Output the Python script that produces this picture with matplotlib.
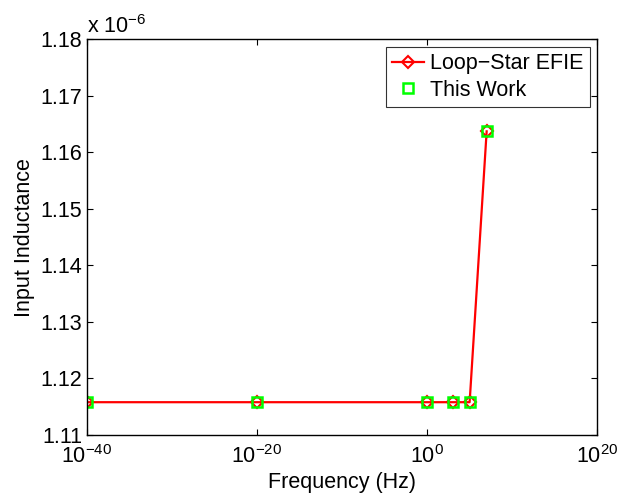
import matplotlib
matplotlib.use("Agg")
import matplotlib.pyplot as plt
from matplotlib.ticker import FuncFormatter, FixedLocator, NullLocator

plt.rcParams['font.family'] = ['Liberation Sans', 'DejaVu Sans']
plt.rcParams['mathtext.fontset'] = 'custom'
plt.rcParams['mathtext.rm'] = 'Liberation Sans'
plt.rcParams['mathtext.it'] = 'Liberation Sans:italic'
plt.rcParams['mathtext.bf'] = 'Liberation Sans:bold'

freq = [1e-40, 1e-20, 1e0, 1e3, 1e5, 1e7]
loop_star = [1.1158e-6, 1.1158e-6, 1.1158e-6, 1.1158e-6, 1.1158e-6, 1.1637e-6]
this_work = [1.1158e-6, 1.1158e-6, 1.1158e-6, 1.1158e-6, 1.1158e-6, 1.1637e-6]
yticks = [1.11e-6, 1.12e-6, 1.13e-6, 1.14e-6, 1.15e-6, 1.16e-6, 1.17e-6, 1.18e-6]
xticks = [1e-40, 1e-20, 1e0, 1e20]
xticklabels = [r'$10^{-40}$', r'$10^{-20}$', r'$10^{0}$', r'$10^{20}$']

FS = 15.5

fig = plt.figure(figsize=(6.34, 4.96), dpi=100)
ax = fig.add_axes([0.137, 0.123, 0.805, 0.798])

ax.plot(freq, loop_star, color='red', lw=1.6, marker='D', markersize=6.5,
        markerfacecolor='none', markeredgecolor='red', markeredgewidth=1.5,
        label='Loop\u2212Star EFIE')
ax.plot(freq, this_work, linestyle='none', marker='s', markersize=6.5,
        markerfacecolor='none', markeredgecolor='#00ff00', markeredgewidth=1.8,
        label='This Work')

ax.set_xscale('log')
ax.set_xlim(1e-40, 1e20)
ax.set_ylim(1.11e-6, 1.18e-6)
ax.xaxis.set_major_locator(FixedLocator(xticks))
ax.xaxis.set_minor_locator(NullLocator())
ax.set_xticklabels(xticklabels)
ax.yaxis.set_major_locator(FixedLocator(yticks))
ax.yaxis.set_major_formatter(FuncFormatter(lambda v, p: f"{v*1e6:.2f}"))

ax.tick_params(direction='in', which='both', top=True, right=True,
               labelsize=FS, length=4, width=0.8)
ax.tick_params(axis='y', pad=3.5)
ax.tick_params(axis='x', pad=7)
for s in ax.spines.values():
    s.set_linewidth(1.0)

ax.set_xlabel('Frequency (Hz)', fontsize=FS, labelpad=3)
ax.set_ylabel('Input Inductance', fontsize=FS, labelpad=4)
ax.text(0.0, 1.003, r'x $10^{-6}$', transform=ax.transAxes, fontsize=FS,
        ha='left', va='bottom')

leg = ax.legend(loc='upper right', fontsize=FS, frameon=True, fancybox=False,
                edgecolor='black', borderaxespad=0.35, handlelength=1.5,
                borderpad=0.3, labelspacing=0.25, handletextpad=0.25)
leg.get_frame().set_linewidth(0.8)

fig.savefig('out.png', dpi=100, facecolor='white')
